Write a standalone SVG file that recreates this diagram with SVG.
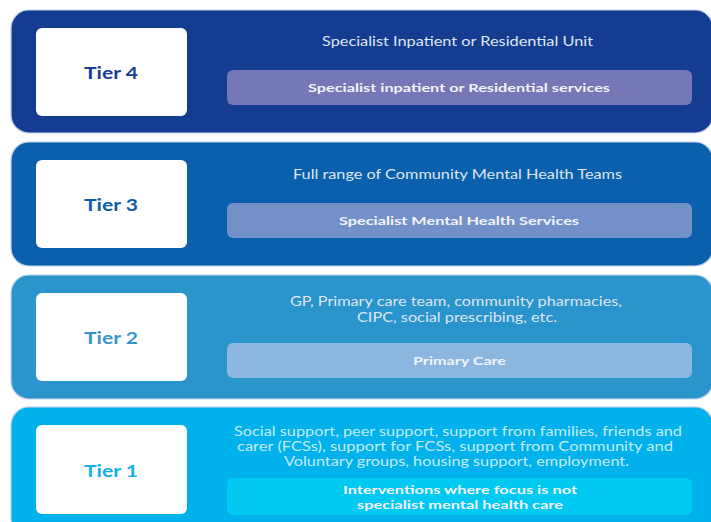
<svg xmlns="http://www.w3.org/2000/svg" width="711" height="522" viewBox="0 0 711 522">
<style>
.band{stroke:#c4d0ea;stroke-width:1.2}
.box{fill:#ffffff}
.tier{font-family:Lato,"Liberation Sans",sans-serif;font-weight:700;font-size:17px;text-anchor:middle}
.desc{font-family:Lato,"Liberation Sans",sans-serif;font-size:12.5px;text-anchor:middle;fill:#dfe5f2}
.desc1{fill:#c4ecfb}
.bartext{font-family:Lato,"Liberation Sans",sans-serif;font-weight:700;font-size:12px;text-anchor:middle;fill:#f2f4fa}
</style>
<rect width="711" height="522" fill="#ffffff"/>
<g id="tier4">
<rect class="band" x="11" y="10" width="702" height="123" rx="18" fill="#143d92"/>
<rect class="box" x="36" y="28" width="151" height="88" rx="6"/>
<text class="tier" x="111" y="79" fill="#173e93" textLength="54" lengthAdjust="spacingAndGlyphs">Tier 4</text>
<text class="desc" x="457.5" y="46" textLength="271" lengthAdjust="spacingAndGlyphs">Specialist Inpatient or Residential Unit</text>
<rect x="227" y="70" width="465" height="35" rx="6" fill="#7677b6"/>
<text class="bartext" x="459" y="92" textLength="302" lengthAdjust="spacingAndGlyphs">Specialist inpatient or Residential services</text>
</g>
<g id="tier3">
<rect class="band" x="11" y="142" width="702" height="124" rx="18" fill="#0a60ad"/>
<rect class="box" x="36" y="160" width="151" height="88" rx="6"/>
<text class="tier" x="111" y="211" fill="#0e5da8" textLength="54" lengthAdjust="spacingAndGlyphs">Tier 3</text>
<text class="desc" x="457.5" y="179" textLength="329" lengthAdjust="spacingAndGlyphs">Full range of Community Mental Health Teams</text>
<rect x="227" y="203" width="465" height="35" rx="6" fill="#7490c9"/>
<text class="bartext" x="459" y="225" textLength="240" lengthAdjust="spacingAndGlyphs">Specialist Mental Health Services</text>
</g>
<g id="tier2">
<rect class="band" x="11" y="275" width="702" height="124" rx="18" fill="#2a94cd"/>
<rect class="box" x="36" y="293" width="151" height="88" rx="6"/>
<text class="tier" x="111" y="344" fill="#3795cd" textLength="54" lengthAdjust="spacingAndGlyphs">Tier 2</text>
<text class="desc" x="456" y="306" textLength="332" lengthAdjust="spacingAndGlyphs">GP, Primary care team, community pharmacies,</text>
<text class="desc" x="457" y="322" textLength="200" lengthAdjust="spacingAndGlyphs">CIPC, social prescribing, etc.</text>
<rect x="227" y="343" width="465" height="35" rx="6" fill="#8ab6e0"/>
<text class="bartext" x="459.5" y="365" textLength="93" lengthAdjust="spacingAndGlyphs">Primary Care</text>
</g>
<g id="tier1">
<rect class="band" x="11" y="407" width="702" height="130" rx="18" fill="#00b1ec"/>
<rect class="box" x="36" y="425" width="151" height="89" rx="6"/>
<text class="tier" x="111" y="477" fill="#14b0e9" textLength="54" lengthAdjust="spacingAndGlyphs">Tier 1</text>
<text class="desc desc1" x="458" y="436" textLength="448" lengthAdjust="spacingAndGlyphs">Social support, peer support, support from families, friends and</text>
<text class="desc desc1" x="455" y="451" textLength="436" lengthAdjust="spacingAndGlyphs">carer (FCSs), support for FCSs, support from Community and</text>
<text class="desc desc1" x="456.5" y="466" textLength="345" lengthAdjust="spacingAndGlyphs">Voluntary groups, housing support, employment.</text>
<rect x="227" y="478" width="465" height="37" rx="6" fill="#00c9f2"/>
<text class="bartext" x="460" y="494" textLength="234" lengthAdjust="spacingAndGlyphs">Interventions where focus is not</text>
<text class="bartext" x="460" y="509" textLength="206" lengthAdjust="spacingAndGlyphs">specialist mental health care</text>
</g>
<g id="connectors"/>
</svg>
